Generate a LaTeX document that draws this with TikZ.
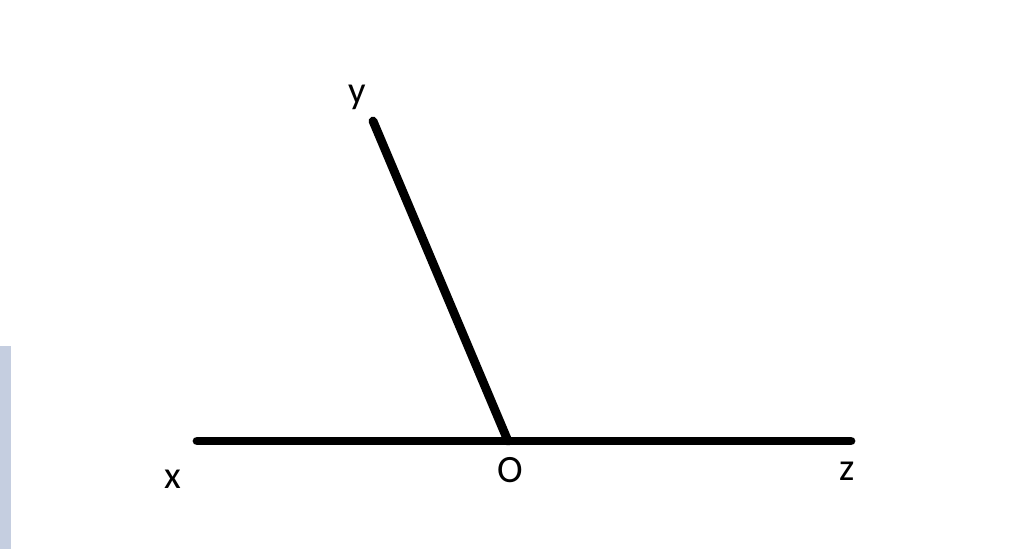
\documentclass[tikz,border=0pt]{standalone}
\usepackage{fontspec}
\setmainfont{Carlito}
\definecolor{stripblue}{HTML}{C5CEE0}
\tikzstyle{ray} = [draw, line width=5pt, line cap=round]
\tikzstyle{lbl} = [inner sep=0pt, anchor=base, font=\fontsize{22}{24}\selectfont]

\begin{document}
\begin{tikzpicture}[x=0.02cm, y=-0.02cm]
    \useasboundingbox (0,0) rectangle (1024,549);
    \fill [stripblue] (0,346) rectangle (11,549);

    % Place points
    \coordinate (O) at (508,441);
    \coordinate (X) at (197,441);
    \coordinate (Z) at (851,441);
    \coordinate (Y) at (373,121);

    % Draw rays
    \path [ray] (X) -- (Z);
    \path [ray] (O) -- (Y);

    % Labels
    \node [lbl] (ylabel) at (357,103) {y};
    \node [lbl] (xlabel) at (173,488) {x};
    \node [lbl] (olabel) at (510,482) {O};
    \node [lbl] (zlabel) at (847,480) {z};
\end{tikzpicture}
\end{document}
